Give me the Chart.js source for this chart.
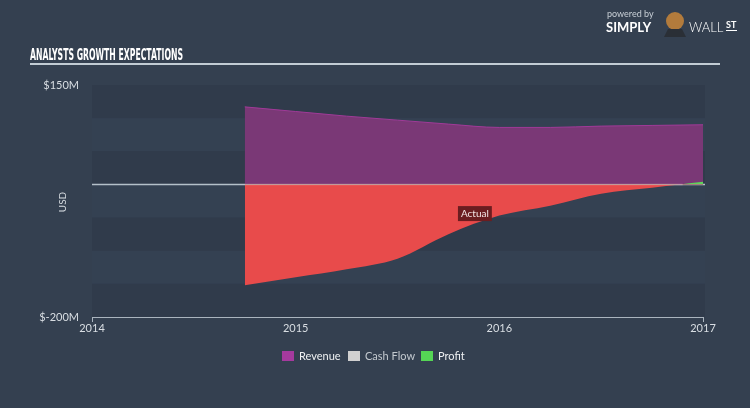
<!DOCTYPE html>
<html><head><meta charset="utf-8">
<script src="https://cdn.jsdelivr.net/npm/chart.js@4/dist/chart.umd.min.js"></script>
<style>html,body{margin:0;padding:0;background:#344050;}canvas{display:block}</style>
</head><body>
<canvas id="c" width="750" height="408"></canvas>
<script>
// ---- data ----
const years = [2014.75, 2015.0, 2015.25, 2015.5, 2015.75, 2016.0, 2016.25, 2016.5, 2016.75, 2017.0];
const revenue = [117, 110, 103, 97, 91, 86, 86, 88, 89, 90];
const profit = [-152, -140, -128, -112, -75, -47, -32, -14, -5, 4];
const cashFlow = [];
const xTickYears = [2014, 2015, 2016, 2017];
const yMin = -200, yMax = 150;
const seriesNames = ['Revenue', 'Cash Flow', 'Profit'];
const chartTitle = 'ANALYSTS GROWTH EXPECTATIONS';
const yAxisTitle = 'USD';
const actualMarker = { x: 2015.88, y: -44, text: 'Actual' };

const FONT = 'Lato, "Open Sans", sans-serif';
const TXT = '#d9dee3';

const pts = (ys) => years.map((x, i) => ({ x, y: ys[i] }));

const decor = {
  id: 'decor',
  beforeDraw(chart) {
    const { ctx, chartArea: a, scales: { y } } = chart;
    ctx.save();
    ctx.fillStyle = '#344050';
    ctx.fillRect(0, 0, chart.width, chart.height);
    // alternating bands
    for (let v = yMax, i = 0; v > yMin; v -= 50, i++) {
      const t = y.getPixelForValue(v), b = y.getPixelForValue(v - 50);
      ctx.fillStyle = i % 2 === 0 ? '#303b4b' : '#344152';
      ctx.fillRect(a.left, t, a.right - a.left + 2, b - t);
    }
    // title
    ctx.fillStyle = '#ffffff';
    ctx.font = 'bold 16px "Liberation Sans Narrow", "DejaVu Sans Condensed", sans-serif';
    const w = ctx.measureText(chartTitle).width;
    ctx.save();
    ctx.translate(30, 60);
    ctx.scale(153 / w, 1);
    ctx.textBaseline = 'alphabetic';
    ctx.fillText(chartTitle, 0, 0);
    ctx.restore();
    ctx.fillStyle = '#c2ccd4';
    ctx.fillRect(30, 63, 690, 2);
    // logo
    ctx.fillStyle = '#c8cfd6';
    ctx.font = '9px ' + FONT;
    ctx.fillText('powered by', 607, 17);
    ctx.fillStyle = '#ffffff';
    ctx.font = 'bold 13px ' + FONT;
    ctx.fillText('SIMPLY', 606, 32);
    ctx.fillStyle = '#b27b3c';
    ctx.beginPath(); ctx.arc(675, 21, 9, 0, Math.PI * 2); ctx.fill();
    ctx.fillStyle = '#2a2f36';
    ctx.beginPath(); ctx.moveTo(664, 37); ctx.lineTo(686, 37); ctx.lineTo(682, 29); ctx.lineTo(668, 29); ctx.closePath(); ctx.fill();
    ctx.fillStyle = '#ffffff';
    ctx.font = '300 13px ' + FONT;
    ctx.fillText('WALL', 689, 32);
    ctx.font = 'bold 9px ' + FONT;
    ctx.fillText('ST', 726, 28);
    ctx.fillRect(726, 30, 11, 1);
    // y axis title
    ctx.save();
    ctx.translate(63, 202);
    ctx.rotate(-Math.PI / 2);
    ctx.fillStyle = TXT;
    ctx.font = '10px ' + FONT;
    ctx.textAlign = 'center';
    ctx.textBaseline = 'middle';
    ctx.fillText(yAxisTitle, 0, 0);
    ctx.restore();
    // zero line under fills
    const z = Math.round(y.getPixelForValue(0)) + 0.5;
    ctx.strokeStyle = '#b4c0c9';
    ctx.lineWidth = 1.5;
    ctx.beginPath(); ctx.moveTo(a.left, z); ctx.lineTo(a.right + 2, z); ctx.stroke();
    ctx.restore();
  },
  afterDatasetsDraw(chart) {
    const { ctx, chartArea: a, scales: { x, y } } = chart;
    ctx.save();
    const z = Math.round(y.getPixelForValue(0)) + 0.5;
    ctx.strokeStyle = 'rgba(255,200,210,0.35)';
    ctx.lineWidth = 1.5;
    ctx.beginPath(); ctx.moveTo(x.getPixelForValue(years[0]), z); ctx.lineTo(x.getPixelForValue(2016.9), z); ctx.stroke();
    // actual marker
    const px = x.getPixelForValue(actualMarker.x), py = y.getPixelForValue(actualMarker.y);
    ctx.font = '10px ' + FONT;
    const tw = ctx.measureText(actualMarker.text).width;
    ctx.fillStyle = '#6b1d20';
    ctx.fillRect(px - tw / 2 - 3, py - 7.5, tw + 6, 15);
    ctx.fillStyle = '#f3e6e6';
    ctx.textAlign = 'center';
    ctx.textBaseline = 'middle';
    ctx.fillText(actualMarker.text, px, py + 0.5);
    // legend
    const ds = chart.data.datasets;
    const lx = [282, 348, 421];
    ctx.textAlign = 'left';
    ctx.font = '11px ' + FONT;
    ds.forEach((d, i) => {
      ctx.fillStyle = d.legendColor;
      ctx.fillRect(lx[i], 351, 12, 10);
      ctx.fillStyle = i === 1 ? '#c3c9cf' : '#eef0f2';
      ctx.fillText(d.label, lx[i] + 17, 356.5);
    });
    ctx.restore();
  }
};

new Chart(document.getElementById('c'), {
  type: 'line',
  data: {
    datasets: [
      { label: seriesNames[0], data: pts(revenue), legendColor: '#a53a9e',
        borderColor: '#a03a98', borderWidth: 1, backgroundColor: '#7a3876',
        fill: 'origin', pointRadius: 0, cubicInterpolationMode: 'monotone', order: 2 },
      { label: seriesNames[1], data: cashFlow, legendColor: '#d0d0d0',
        borderColor: '#d0d0d0', backgroundColor: '#d0d0d0', pointRadius: 0, order: 3 },
      { label: seriesNames[2], data: pts(profit), legendColor: '#55d655',
        borderWidth: 0, borderColor: 'rgba(0,0,0,0)',
        fill: { target: 'origin', above: '#5ed35a', below: '#e84b4b' },
        pointRadius: 0, cubicInterpolationMode: 'monotone', order: 1 }
    ]
  },
  options: {
    responsive: false,
    animation: false,
    events: [],
    layout: { padding: { top: 85, right: 47, left: 0, bottom: 0 } },
    plugins: { legend: { display: false }, tooltip: { enabled: false } },
    scales: {
      x: {
        type: 'linear', min: 2014, max: 2017,
        afterBuildTicks: (s) => { s.ticks = xTickYears.map(v => ({ value: v })); },
        ticks: { color: TXT, font: { size: 11, family: FONT }, padding: 0, maxRotation: 0,
          callback: (v) => String(v) },
        grid: { display: true, drawOnChartArea: false, drawTicks: true, tickLength: 5,
          tickColor: (c) => (c.tick && (c.tick.value === 2014 || c.tick.value === 2017)) ? '#aab4be' : 'rgba(0,0,0,0)' },
        border: { display: true, color: '#aab4be', width: 1 },
        afterFit: (s) => { s.height = 91; }
      },
      y: {
        min: yMin, max: yMax,
        afterBuildTicks: (s) => { s.ticks = [{ value: yMin }, { value: yMax }]; },
        ticks: { color: TXT, font: { size: 11, family: FONT }, padding: 5,
          callback: (v) => '$' + v + 'M' },
        grid: { display: false },
        border: { display: false },
        afterFit: (s) => { s.width = 92; }
      }
    }
  },
  plugins: [decor]
});
</script>
</body></html>
